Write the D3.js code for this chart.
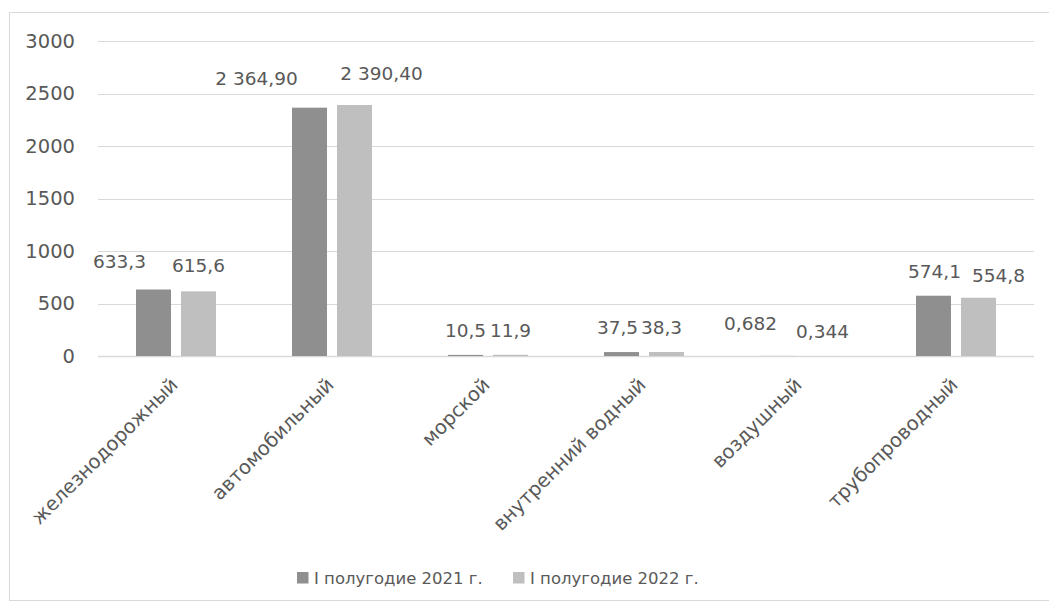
<!DOCTYPE html>
<html>
<head>
<meta charset="utf-8">
<script src="https://cdn.jsdelivr.net/npm/d3@7"></script>
<style>
  html, body { margin: 0; padding: 0; background: #fff; }
  svg { display: block; font-family: "DejaVu Sans", sans-serif; }
</style>
</head>
<body>
<svg id="chart" width="1049" height="607"></svg>
<script>
// Freight transport by mode, first half of year
const categories = ["железнодорожный", "автомобильный", "морской", "внутренний водный", "воздушный", "трубопроводный"];
const seriesNames = ["I полугодие 2021 г.", "I полугодие 2022 г."];
const values2021 = [633.3, 2364.9, 10.5, 37.5, 0.682, 574.1];
const values2022 = [615.6, 2390.4, 11.9, 38.3, 0.344, 554.8];
const labels2021 = ["633,3", "2 364,90", "10,5", "37,5", "0,682", "574,1"];
const labels2022 = ["615,6", "2 390,40", "11,9", "38,3", "0,344", "554,8"];
const yTicks = [0, 500, 1000, 1500, 2000, 2500, 3000];

// hand-placed label nudges (dx, dy) per series, per category
const nudge2021 = [[-34, -4], [-53, -5], [0, 0], [-4, 0], [-27, -8], [1, 0]];
const nudge2022 = [[0, -1], [27, -7], [0, 0], [-5, 0], [0, 0], [20, 2]];

const colors = ["#8f8f8f", "#bfbfbf"];
const textColor = "#595959";
const gridColor = "#d9d9d9";

const svg = d3.select("#chart");

// outer frame
svg.append("rect")
  .attr("x", 9.5).attr("y", 12.5)
  .attr("width", 1050).attr("height", 588)
  .attr("fill", "none").attr("stroke", gridColor).attr("stroke-width", 1);

const plot = { left: 98, right: 1034, top: 41, bottom: 356 };

const x = d3.scaleBand().domain(categories).range([plot.left, plot.right]).paddingInner(0).paddingOuter(0);
const xs = d3.scaleBand().domain(seriesNames).range([38, 118]).paddingInner(10 / 45).paddingOuter(0);
const y = d3.scaleLinear().domain([0, 3000]).range([plot.bottom, plot.top]);

// gridlines
svg.append("g").selectAll("line").data(yTicks).join("line")
  .attr("x1", plot.left).attr("x2", plot.right)
  .attr("y1", d => Math.round(y(d)) + 0.5).attr("y2", d => Math.round(y(d)) + 0.5)
  .attr("stroke", gridColor).attr("stroke-width", d => d === 0 ? 1.5 : 1.2);

// y tick labels
const yAxis = d3.axisLeft(y).tickValues(yTicks).tickSize(0).tickPadding(0).tickFormat(d3.format("d"));
const gy = svg.append("g").attr("transform", "translate(75,0)").call(yAxis);
gy.select(".domain").remove();
gy.selectAll("text").attr("fill", textColor).attr("font-size", "19.5px")
  .attr("font-family", "DejaVu Sans, sans-serif");

const rows = categories.map((c, i) => ({
  cat: c,
  items: [
    { s: seriesNames[0], v: values2021[i], label: labels2021[i], n: nudge2021[i], color: colors[0] },
    { s: seriesNames[1], v: values2022[i], label: labels2022[i], n: nudge2022[i], color: colors[1] }
  ]
}));

const groups = svg.append("g").selectAll("g").data(rows).join("g")
  .attr("transform", d => `translate(${x(d.cat)},0)`);

groups.selectAll("rect").data(d => d.items).join("rect")
  .attr("x", d => xs(d.s))
  .attr("width", xs.bandwidth())
  .attr("y", d => y(d.v))
  .attr("height", d => y(0) - y(d.v))
  .attr("fill", d => d.color);

groups.selectAll("text.val").data(d => d.items).join("text")
  .attr("class", "val")
  .attr("x", d => xs(d.s) + xs.bandwidth() / 2 + d.n[0])
  .attr("y", d => y(d.v) - 18 + d.n[1])
  .attr("text-anchor", "middle")
  .attr("font-size", "18.5px")
  .attr("fill", textColor)
  .text(d => d.label);

// rotated category labels
svg.append("g").selectAll("text").data(categories).join("text")
  .attr("transform", d => `translate(${x(d) + x.bandwidth() / 2 + 3},${386}) rotate(-45)`)
  .attr("text-anchor", "end")
  .attr("font-size", "19.5px")
  .attr("fill", textColor)
  .text(d => d);

// legend
const legendX = [297, 513];
const legend = svg.append("g").selectAll("g").data(seriesNames).join("g")
  .attr("transform", (d, i) => `translate(${legendX[i]},0)`);
legend.append("rect")
  .attr("x", 0).attr("y", 572).attr("width", 11.5).attr("height", 11.5)
  .attr("fill", (d, i) => colors[i]);
legend.append("text")
  .attr("x", 17).attr("y", 583.5)
  .attr("font-size", "16.5px")
  .attr("fill", textColor)
  .text(d => d);
</script>
</body>
</html>
